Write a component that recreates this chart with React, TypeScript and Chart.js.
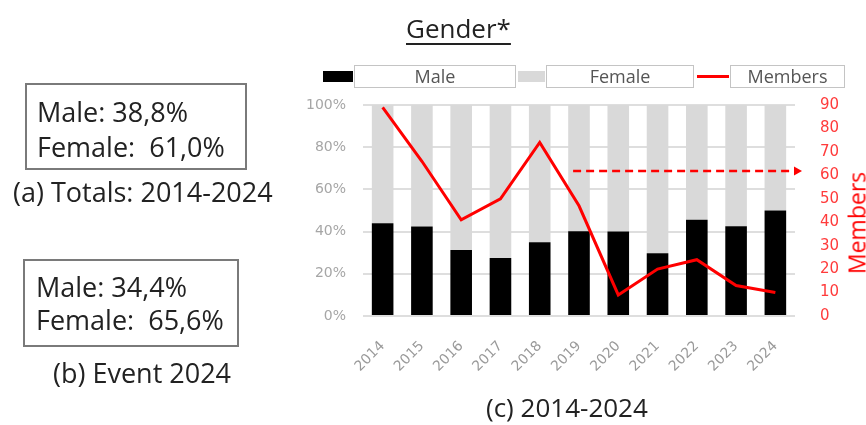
import React, { useEffect, useRef } from 'react';
import { Chart, registerables } from 'chart.js';
import type { Plugin } from 'chart.js';

Chart.register(...registerables);

// values
const years = ['2014', '2015', '2016', '2017', '2018', '2019', '2020', '2021', '2022', '2023', '2024'];
const malePct = [44.0, 42.4, 31.3, 27.5, 34.9, 40.2, 40.0, 29.7, 45.6, 42.5, 50.0];
const femalePct = [56.0, 57.6, 68.7, 72.5, 65.1, 59.8, 60.0, 70.3, 54.4, 57.5, 50.0];
const members = [89, 66, 41, 50, 74, 47, 9, 20, 24, 13, 10];

// dashed target arrow on the members axis
const targetMembers = 61.8;
const targetFrom = 4.85; // category index where the arrow starts

const totalsAll = ['Male: 38,8%', 'Female:  61,0%'];
const totalsEvent = ['Male: 34,4%', 'Female:  65,6%'];

const FONT = '"Open Sans", sans-serif';
const TICK_FONT = '"DejaVu Sans", sans-serif';
const RED = '#ff0000';

const targetArrow: Plugin<'bar'> = {
  id: 'targetArrow',
  afterDatasetsDraw(chart) {
    const { ctx, chartArea } = chart;
    const x = chart.scales.x;
    const y1 = chart.scales.y1;
    const yy = y1.getPixelForValue(targetMembers);
    const x0 = x.getPixelForValue(targetFrom);
    const tip = chartArea.right + 7;
    ctx.save();
    ctx.strokeStyle = RED;
    ctx.fillStyle = RED;
    ctx.lineWidth = 2.5;
    ctx.setLineDash([8, 5]);
    ctx.beginPath();
    ctx.moveTo(x0, yy);
    ctx.lineTo(tip - 8, yy);
    ctx.stroke();
    ctx.setLineDash([]);
    ctx.beginPath();
    ctx.moveTo(tip, yy);
    ctx.lineTo(tip - 8, yy - 4.5);
    ctx.lineTo(tip - 8, yy + 4.5);
    ctx.closePath();
    ctx.fill();
    ctx.restore();
  },
};

const abs = (left: number, top: number, extra: React.CSSProperties = {}): React.CSSProperties => ({
  position: 'absolute',
  left,
  top,
  ...extra,
});

const GenderChart: React.FC = () => {
  const chartRef = useRef<HTMLCanvasElement>(null);
  const chartInstanceRef = useRef<Chart | null>(null);

  useEffect(() => {
    if (!chartRef.current) return;
    const ctx = chartRef.current.getContext('2d');
    if (!ctx) return;

    if (chartInstanceRef.current) {
      chartInstanceRef.current.destroy();
    }

    chartInstanceRef.current = new Chart(ctx, {
      type: 'bar',
      data: {
        labels: years,
        datasets: [
          {
            type: 'line',
            label: 'Members',
            data: members,
            yAxisID: 'y1',
            borderColor: RED,
            borderWidth: 3,
            pointRadius: 0,
            tension: 0,
            order: 0,
          } as any,
          {
            label: 'Male',
            data: malePct,
            backgroundColor: '#000000',
            stack: 'gender',
            barPercentage: 0.55,
            categoryPercentage: 1,
            order: 1,
          },
          {
            label: 'Female',
            data: femalePct,
            backgroundColor: '#d9d9d9',
            stack: 'gender',
            barPercentage: 0.55,
            categoryPercentage: 1,
            order: 1,
          },
        ],
      },
      options: {
        responsive: true,
        maintainAspectRatio: false,
        animation: false,
        layout: { padding: { left: 300, top: 105, right: 0, bottom: 39 } },
        scales: {
          x: {
            stacked: true,
            grid: { display: false },
            border: { display: false },
            ticks: {
              color: '#9a9a9a',
              font: { family: TICK_FONT, size: 14 },
              minRotation: 45,
              maxRotation: 45,
              padding: 14,
            },
            afterFit: (s: any) => {
              s.height = 70;
            },
          },
          y: {
            stacked: true,
            min: 0,
            max: 100,
            ticks: {
              stepSize: 20,
              color: '#a6a6a6',
              font: { family: TICK_FONT, size: 14 },
              padding: 17,
              callback: (v: string | number) => `${v}%`,
            },
            grid: { color: '#dedede', lineWidth: 2, drawTicks: false },
            border: { display: false },
            afterFit: (s: any) => {
              s.width = 63;
            },
          },
          y1: {
            position: 'right',
            min: 0,
            max: 90,
            ticks: {
              stepSize: 10,
              color: '#ff3b3b',
              font: { family: TICK_FONT, size: 15 },
              padding: 17,
            },
            grid: { display: false },
            border: { display: false },
            afterFit: (s: any) => {
              s.width = 71;
            },
          },
        },
        plugins: {
          legend: { display: false },
          tooltip: { enabled: false },
        },
      },
      plugins: [targetArrow],
    });

    return () => {
      if (chartInstanceRef.current) {
        chartInstanceRef.current.destroy();
        chartInstanceRef.current = null;
      }
    };
  }, []);

  const bigText: React.CSSProperties = { fontFamily: FONT, fontSize: 27, color: '#222', whiteSpace: 'pre', lineHeight: 1 };
  const legendBox = (left: number, width: number, text: string) => (
    <div
      style={abs(left, 65, {
        width,
        height: 23,
        boxSizing: 'border-box',
        border: '1px solid #c4c4c4',
        fontFamily: FONT,
        fontSize: 18,
        color: '#555',
        textAlign: 'center',
        lineHeight: '21px',
      })}
    >
      {text}
    </div>
  );

  return (
    <div style={{ position: 'absolute', left: 0, top: 0, width: 866, height: 425, background: '#fff', overflow: 'hidden' }}>
      <div style={abs(0, 0, { width: 866, height: 425 })}>
        <canvas ref={chartRef}></canvas>
      </div>

      {/* title */}
      <div
        style={abs(406, 15, {
          ...bigText,
          fontSize: 26,
          textDecoration: 'underline',
          textDecorationThickness: 2,
          textUnderlineOffset: 5,
        })}
      >
        Gender*
      </div>

      {/* legend */}
      <div style={abs(323, 71, { width: 30, height: 11, background: '#000' })}></div>
      {legendBox(354, 162, 'Male')}
      <div style={abs(518, 71, { width: 27, height: 11, background: '#d9d9d9' })}></div>
      {legendBox(546, 148, 'Female')}
      <div style={abs(697, 75, { width: 32, height: 3, background: RED })}></div>
      {legendBox(730, 115, 'Members')}

      {/* right axis title */}
      <div
        style={abs(857, 223, {
          fontFamily: FONT,
          fontSize: 23,
          color: RED,
          transform: 'translate(-50%, -50%) rotate(-90deg)',
          whiteSpace: 'nowrap',
          lineHeight: 1,
        })}
      >
        Members
      </div>

      {/* panel (a) */}
      <div style={abs(25, 83, { width: 222, height: 87, boxSizing: 'border-box', border: '2px solid #7a7a7a' })}></div>
      <div style={abs(37, 98, bigText)}>{totalsAll[0]}</div>
      <div style={abs(37, 133, bigText)}>{totalsAll[1]}</div>
      <div style={abs(13, 178, bigText)}>(a) Totals: 2014-2024</div>

      {/* panel (b) */}
      <div style={abs(23, 259, { width: 216, height: 88, boxSizing: 'border-box', border: '2px solid #7a7a7a' })}></div>
      <div style={abs(36, 273, bigText)}>{totalsEvent[0]}</div>
      <div style={abs(36, 306, bigText)}>{totalsEvent[1]}</div>
      <div style={abs(53, 359, bigText)}>(b) Event 2024</div>

      {/* panel (c) caption */}
      <div style={abs(486, 394, { ...bigText, fontSize: 26 })}>(c) 2014-2024</div>
    </div>
  );
};

export default function App() {
  return <GenderChart />;
}
